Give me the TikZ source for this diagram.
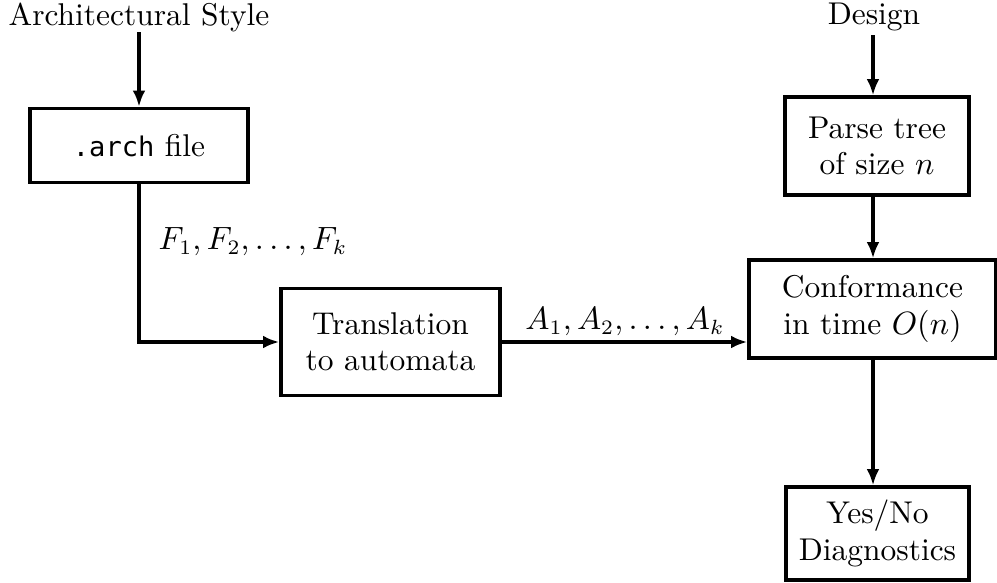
\documentclass[tikz,border=0pt]{standalone}
\usepackage{fontspec}
\newfontfamily\archfont{DejaVu Sans Mono}[Scale=0.86]
\usetikzlibrary{arrows.meta}
\begin{document}
\begin{tikzpicture}[x=0.34pt,y=-0.34pt,
  every node/.style={font=\fontsize{10.7}{12.3}\selectfont},
  box/.style={draw,line width=1.1pt,align=center,inner sep=0pt},
  lbl/.style={inner sep=0pt},
  conn/.style={line width=1.1pt,-{Latex[length=5.5pt,width=4.3pt]}}]
\useasboundingbox (0,0) rectangle (997,582);
\node[lbl] (as) at (139,17) {Architectural Style};
\node[lbl] (de) at (874,17) {Design};
\node[box,minimum width=74.1pt,minimum height=25.2pt] (arch) at (139,145.5) {{\archfont .arch} file};
\node[box,minimum width=74.5pt,minimum height=36.4pt] (trans) at (390.5,342) {Translation\\to automata};
\node[box,minimum width=62.6pt,minimum height=33.3pt] (parse) at (877,146) {Parse tree\\of size $n$};
\node[box,minimum width=84pt,minimum height=33.3pt] (conf) at (872.5,309) {Conformance\\in time $O(n)$};
\node[box,minimum width=62.2pt,minimum height=31.6pt] (yn) at (877.5,533.5) {Yes/No\\Diagnostics};
\coordinate (asb) at (139,32);
\coordinate (deb) at (873,35);
\draw[conn] (asb) -- (arch.north);
\draw[conn] (deb) -- (deb |- parse.north);
\draw[conn] (arch.south) |- (trans.west);
\draw[conn] (trans.east) -- (trans.east -| conf.west);
\draw[conn] (deb |- parse.south) -- (deb |- conf.north);
\draw[conn] (deb |- conf.south) -- (deb |- yn.north);
\node[lbl,anchor=west] (fl) at (158,242) {$F_1,F_2,\ldots,F_k$};
\node[lbl] (al) at (625,322) {$A_1,A_2,\ldots,A_k$};
\end{tikzpicture}
\end{document}
